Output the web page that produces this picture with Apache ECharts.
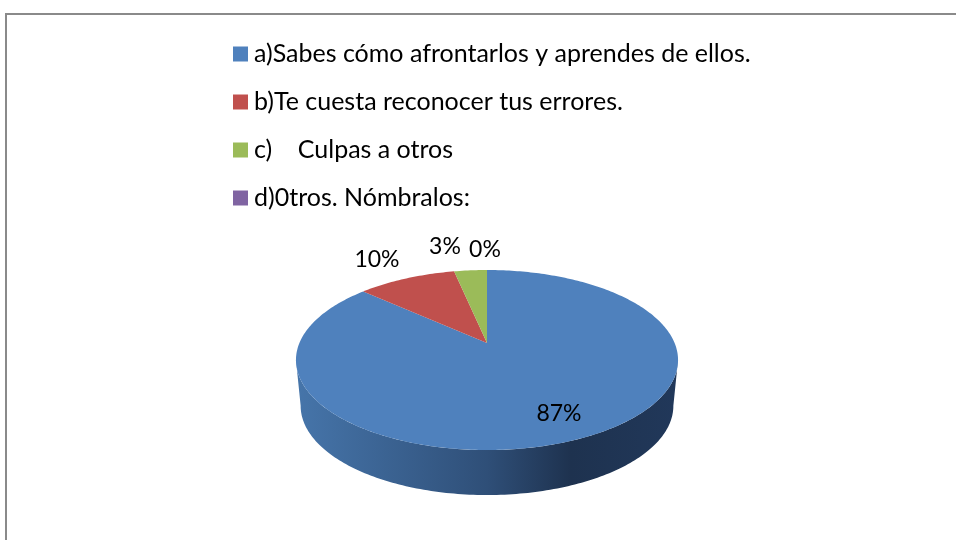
<!DOCTYPE html>
<html>
<head>
<meta charset="utf-8">
<style>
  html, body { margin: 0; padding: 0; background: #fff; overflow: hidden; }
  #chart { width: 956px; height: 540px; }
</style>
<script src="https://cdn.jsdelivr.net/npm/echarts@6/dist/echarts.min.js"></script>
</head>
<body>
<div id="chart"></div>
<script>
var categories = [
  "a)Sabes cómo afrontarlos y aprendes de ellos.",
  "b)Te cuesta reconocer tus errores.",
  "c)    Culpas a otros",
  "d)0tros. Nómbralos:"
];
var counts = [26, 3, 1, 0];
var colors = ["#4f81bd", "#c0504d", "#9bbb59", "#8064a2"];

// where each percent label sits, relative to the pie's apex
var labelOffsets = [[72, 71], [-110, -83], [-42, -96], [-2, -93]];

// perspective disc: x = a*u/(1+k*v), y = -b*v/(1+k*v)
var cx = 487;
var topDisc = { y: 343, a: 187.6, b: 86.8 };
var bottomDisc = { y: 389, a: 183, b: 86 };
var k = 0.189;
var total = counts.reduce(function (s, c) { return s + c; }, 0);

function project(disc, deg) {
  var t = deg * Math.PI / 180;
  var d = 1 + k * Math.cos(t);
  return [cx + disc.a * Math.sin(t) / d, disc.y - disc.b * Math.cos(t) / d];
}

function arc(disc, from, to) {
  var pts = [];
  var n = Math.max(1, Math.ceil(Math.abs(to - from)));
  for (var i = 0; i <= n; i++) {
    pts.push(project(disc, from + (to - from) * i / n));
  }
  return pts;
}

// front part of the wall that can be seen from above
var wallFrom = 100.9;
var wallTo = 259.1;

var wallGradient = new echarts.graphic.LinearGradient(0, 0, 1, 0, [
  { offset: 0, color: "#4675aa" },
  { offset: 0.5, color: "#2f4f78" },
  { offset: 0.72, color: "#1e324f" },
  { offset: 1, color: "#21385a" }
]);

function renderSlice(index) {
  return function (params, api) {
    var before = 0;
    for (var i = 0; i < index; i++) before += counts[i];
    var start = before / total * 360;
    var end = (before + api.value(0)) / total * 360;
    var children = [];

    var a = Math.max(start, wallFrom);
    var b = Math.min(end, wallTo);
    if (b > a) {
      children.push({
        type: "polygon",
        shape: { points: arc(topDisc, a, b).concat(arc(bottomDisc, b, a)) },
        style: { fill: wallGradient }
      });
    }
    if (end > start) {
      children.push({
        type: "polygon",
        shape: { points: [[cx, topDisc.y]].concat(arc(topDisc, start, end)) },
        style: { fill: colors[index] }
      });
    }
    children.push({
      type: "text",
      x: cx + labelOffsets[index][0],
      y: topDisc.y + labelOffsets[index][1],
      style: {
        text: Math.round(api.value(0) / total * 100) + "%",
        fill: "#000",
        font: "23px Lato",
        align: "center",
        verticalAlign: "middle"
      }
    });
    return { type: "group", children: children };
  };
}

var chart = echarts.init(document.getElementById("chart"));
chart.setOption({
  animation: false,
  backgroundColor: "#fff",
  graphic: [{
    type: "rect",
    silent: true,
    shape: { x: 6, y: 14, width: 1000, height: 600 },
    style: { fill: "none", stroke: "#8a8a8a", lineWidth: 2 }
  }],
  legend: {
    orient: "vertical",
    left: 233,
    top: 41,
    icon: "rect",
    itemWidth: 15,
    itemHeight: 15,
    itemGap: 22,
    padding: 0,
    selectedMode: false,
    data: categories,
    textStyle: { color: "#000", fontFamily: "Lato", fontSize: 25, lineHeight: 26, padding: [0, 0, 0, 1] }
  },
  series: categories.map(function (name, i) {
    return {
      type: "custom",
      name: name,
      coordinateSystem: "none",
      silent: true,
      itemStyle: { color: colors[i] },
      data: [[counts[i]]],
      renderItem: renderSlice(i)
    };
  })
});
</script>
</body>
</html>
